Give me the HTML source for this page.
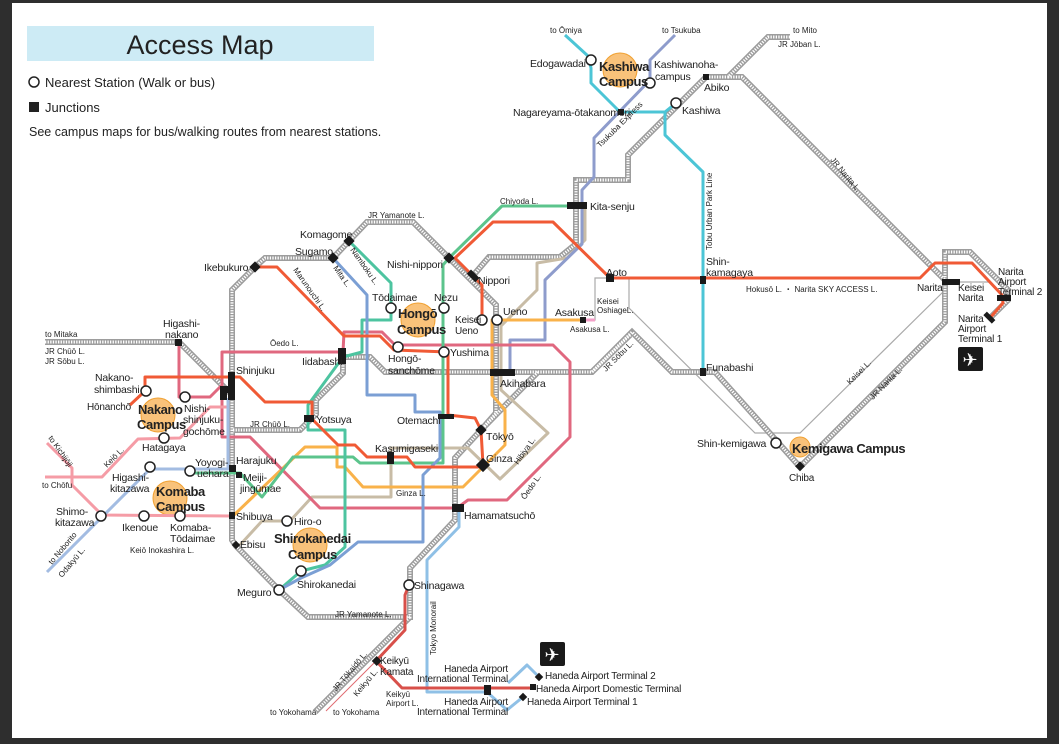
<!DOCTYPE html>
<html><head><meta charset="utf-8"><style>
html,body{margin:0;padding:0;background:#2e2e2e;}
svg{display:block;}
text{font-family:"Liberation Sans",sans-serif;fill:#222;}
.s{font-size:10.5px;letter-spacing:-0.2px;}
.t{font-size:8px;}
.c{font-size:13px;font-weight:bold;letter-spacing:-0.4px;}
</style></head><body>
<svg width="1059" height="744" viewBox="0 0 1059 744" xmlns="http://www.w3.org/2000/svg">
<rect x="0" y="0" width="1059" height="744" fill="#2e2e2e"/>
<rect x="12" y="3" width="1035" height="735" fill="#fff"/>
<rect x="27" y="26" width="347" height="35" fill="#cdebf5"/>
<text x="200" y="54" text-anchor="middle" style="font-size:27px" fill="#222">Access Map</text>
<circle cx="34" cy="82" r="5" fill="#fff" stroke="#222" stroke-width="1.5"/>
<text x="45" y="87" style="font-size:13px">Nearest Station (Walk or bus)</text>
<rect x="29" y="102" width="10" height="10" fill="#222"/>
<text x="45" y="112" style="font-size:13px">Junctions</text>
<text x="29" y="136" style="font-size:12.5px">See campus maps for bus/walking routes from nearest stations.</text>

<g fill="#f9c27a" stroke="#f0a030" stroke-width="1">
<circle cx="418" cy="320" r="17"/><circle cx="158" cy="415" r="17"/><circle cx="170" cy="498" r="17"/>
<circle cx="310" cy="545" r="17"/><circle cx="620" cy="70" r="17"/><circle cx="800" cy="447" r="10"/>
</g>

<g fill="none" stroke="#aaa" stroke-width="1.2">
<path d="M584,320 L595,320 L595,278 L629,278 L629,308 L755,433 L800,433 L945,290"/>
<path d="M950,282 L990,282 L1002,294"/>
</g>

<g fill="none" stroke-linejoin="miter">
<g stroke="#9d9d9d" stroke-width="6">
<path d="M255,267 L265,258 L333,258 L349,241 L367,222 L413,222 L449,258 L496,305 L496,413 L481,430 L455,458 L455,520 L410,568 L410,617 L308,617 L279,590 L236,546 L232,540 L232,290 Z"/>
<path d="M45,342 L179,342 L232,395"/>
<path d="M233,430 L300,430 L316,414 L316,400 L343,373 L343,357 L370,357 L385,372 L592,372 L632,332 L672,372 L715,372 L800,467 L945,322 L945,252 L970,252 L1008,290 L1008,300 L990,318"/>
<path d="M630,335 L592,372"/><path d="M538,372 L481,430"/>
<path d="M790,37 L768,37 L728,77 L706,77 L628,155 L628,180 L576,180 L576,244 L560,257 L489,257 L471,278"/>
<path d="M728,77 L742,77 L945,280"/>
<path d="M315,712 L410,617"/>
</g>
<g stroke="#fff" stroke-width="3" stroke-dasharray="1.3 1.3">
<path d="M255,267 L265,258 L333,258 L349,241 L367,222 L413,222 L449,258 L496,305 L496,413 L481,430 L455,458 L455,520 L410,568 L410,617 L308,617 L279,590 L236,546 L232,540 L232,290 Z"/>
<path d="M45,342 L179,342 L232,395"/>
<path d="M233,430 L300,430 L316,414 L316,400 L343,373 L343,357 L370,357 L385,372 L592,372 L632,332 L672,372 L715,372 L800,467 L945,322 L945,252 L970,252 L1008,290 L1008,300 L990,318"/>
<path d="M630,335 L592,372"/><path d="M538,372 L481,430"/>
<path d="M790,37 L768,37 L728,77 L706,77 L628,155 L628,180 L576,180 L576,244 L560,257 L489,257 L471,278"/>
<path d="M728,77 L742,77 L945,280"/>
<path d="M315,712 L410,617"/>
</g>
</g>

<g fill="none" stroke-width="3" stroke-linejoin="round">
<path stroke="#c8bca6" d="M585,206 L585,240 L567,258 L537,263 L537,290 L501,326 L501,390 L548,433 L500,479 L468,448 L391,448 L391,497 L312,497 L290,521 L262,521 L240,545"/>
<path stroke="#8e9ccc" d="M675,35 L650,60 L650,80 L594,138 L594,177 L582,190 L582,244 L545,280 L545,340 L510,340 L510,372"/>
<path stroke="#4cc5d6" d="M565,35 L588,56 L591,68 L591,83 L620,112 L665,112 L676,103 M665,112 L665,135 L703,172 L703,372"/>
<path stroke="#f05a35" d="M482,318 L482,285 L455,258 L493,222 L553,222 L610,278 L920,278 L935,263 L972,263 L1002,295 L1003,303 L990,318"/>
<path stroke="#f4a0c8" d="M584,320 L595,320"/>
<path stroke="#f9b24a" d="M584,320 L492,320 L492,395 L505,410 L505,445 L483,467 L463,487 L363,487 L345,467 L337,467 L337,447 L305,447 L234,515"/>
<path stroke="#e0687f" d="M343,352 L222,352 L222,437 L250,437 L320,508 L457,508 L468,500 L507,500 L570,437 L570,362 L553,345 L395,345 L382,332 L344,332 L343,352 M179,342 L179,397 L210,397 L222,385"/>
<path stroke="#5cc48c" d="M570,206 L502,206 L449,258 L443,265 L443,463 L360,463 L353,457 L293,457 L262,497 L240,473 L190,473"/>
<path stroke="#4dc4a0" d="M349,241 L391,283 L391,320 L362,320 L362,352 L343,357 L308,405 L308,430 L345,430 L345,547 L325,565 L301,571 L279,590"/>
<path stroke="#7b9fd4" d="M333,258 L367,295 L367,395 L415,395 L415,412 L440,412 L440,458 L423,475 L423,542 L358,542 L330,565 L301,578 L279,590"/>
<path stroke="#f05a35" d="M255,267 L277,267 L344,336 L380,336 L394,350 L448,352 L448,415 L475,418 L481,430 L483,465 L478,467 L415,467 L407,457 L367,457 L355,445 L338,445 L312,419 L312,402 L265,402 L240,377 L145,377 L145,390 M145,391 L130,405"/>
<path stroke="#f59ca6" d="M227,407 L210,407 L180,438 L138,439 L102,477 L45,477 M47,443 L72,468 L72,485 L102,515 L232,516"/>
<path stroke="#a3bce2" d="M228,398 L228,469 L150,469 L47,572"/>
<path stroke="#8fc0e6" d="M459,510 L459,527 L427,560 L427,692 L487,692 L507,710 L523,697 M508,683 L527,665 L540,678"/>
<path stroke="#d8504a" d="M409,585 L405,595 L405,630 L376,661 L402,688 L533,688"/>
<path stroke="#e06a70" stroke-width="1" d="M326,711 L376,661"/>
</g>

<g fill="#1a1a1a">
<rect x="251" y="263" width="8" height="8" transform="rotate(45 255 267)"/>
<rect x="329" y="254" width="8" height="8" transform="rotate(45 333 258)"/>
<rect x="345" y="237" width="8" height="8" transform="rotate(45 349 241)"/>
<rect x="445" y="254" width="8" height="8" transform="rotate(45 449 258)"/>
<rect x="465" y="272" width="12" height="6" transform="rotate(45 471 278)"/>
<rect x="338" y="348" width="8" height="16"/>
<rect x="228" y="372" width="7" height="28"/><rect x="220" y="386" width="15" height="7"/><rect x="220" y="386" width="7" height="14"/>
<rect x="304" y="415" width="10" height="7"/>
<rect x="438" y="414" width="16" height="5"/>
<rect x="387" y="452" width="7" height="12"/>
<rect x="477" y="426" width="8" height="8" transform="rotate(45 481 430)"/>
<rect x="478" y="460" width="10" height="10" transform="rotate(45 483 465)"/>
<rect x="490" y="369" width="25" height="7"/>
<rect x="452" y="504" width="12" height="8"/>
<rect x="567" y="202" width="20" height="7"/>
<rect x="606" y="274" width="8" height="8"/>
<rect x="700" y="276" width="6" height="8"/>
<rect x="700" y="368" width="6" height="8"/>
<rect x="618" y="109" width="6" height="6"/>
<rect x="703" y="74" width="6" height="6"/>
<rect x="175" y="339" width="7" height="7"/>
<rect x="229" y="465" width="7" height="7"/><rect x="236" y="472" width="6" height="6"/>
<rect x="229" y="512" width="6" height="7"/>
<rect x="233" y="542" width="6" height="6" transform="rotate(45 236 545)"/>
<rect x="796" y="463" width="7" height="7" transform="rotate(45 800 467)"/>
<rect x="942" y="279" width="18" height="6"/>
<rect x="997" y="295" width="14" height="6"/>
<rect x="983" y="315" width="12" height="5" transform="rotate(45 989 318)"/>
<rect x="373" y="657" width="7" height="7" transform="rotate(45 376 661)"/>
<rect x="484" y="685" width="7" height="10"/>
<rect x="530" y="684" width="6" height="6"/>
<rect x="536" y="674" width="6" height="6" transform="rotate(45 539 677)"/>
<rect x="520" y="694" width="6" height="6" transform="rotate(45 523 697)"/>
<rect x="580" y="317" width="6" height="6"/>
</g>

<g fill="#fff" stroke="#222" stroke-width="1.5">
<circle cx="391" cy="308" r="5"/><circle cx="444" cy="308" r="5"/><circle cx="482" cy="320" r="5"/>
<circle cx="497" cy="320" r="5"/><circle cx="398" cy="347" r="5"/><circle cx="444" cy="352" r="5"/>
<circle cx="146" cy="391" r="5"/><circle cx="185" cy="397" r="5"/><circle cx="164" cy="438" r="5"/>
<circle cx="150" cy="467" r="5"/><circle cx="190" cy="471" r="5"/><circle cx="101" cy="516" r="5"/>
<circle cx="144" cy="516" r="5"/><circle cx="180" cy="516" r="5"/><circle cx="287" cy="521" r="5"/>
<circle cx="301" cy="571" r="5"/><circle cx="279" cy="590" r="5"/><circle cx="409" cy="585" r="5"/>
<circle cx="591" cy="60" r="5"/><circle cx="650" cy="83" r="5"/><circle cx="676" cy="103" r="5"/>
<circle cx="776" cy="443" r="5"/>
</g>

<rect x="958" y="347" width="25" height="24" rx="2" fill="#1a1a1a"/>
<text x="970" y="366" text-anchor="middle" style="font-size:18px;fill:#fff">✈</text>
<rect x="540" y="642" width="25" height="24" rx="2" fill="#1a1a1a"/>
<text x="552" y="661" text-anchor="middle" style="font-size:18px;fill:#fff">✈</text>

<g class="c">
<text x="398" y="318" class="c">Hongō</text><text x="397" y="334" class="c">Campus</text>
<text x="138" y="414" class="c">Nakano</text><text x="137" y="429" class="c">Campus</text>
<text x="156" y="496" class="c">Komaba</text><text x="156" y="511" class="c">Campus</text>
<text x="274" y="543" class="c">Shirokanedai</text><text x="288" y="559" class="c">Campus</text>
<text x="599" y="71" class="c">Kashiwa</text><text x="599" y="86" class="c">Campus</text>
<text x="792" y="453" class="c">Kemigawa Campus</text>
</g>

<g class="s">
<text x="300" y="238">Komagome</text><text x="295" y="255">Sugamo</text><text x="204" y="271">Ikebukuro</text>
<text x="387" y="268">Nishi-nippori</text><text x="478" y="284">Nippori</text>
<text x="372" y="301">Tōdaimae</text><text x="434" y="301">Nezu</text>
<text x="455" y="323" style="font-size:10px">Keisei</text><text x="455" y="334" style="font-size:10px">Ueno</text>
<text x="503" y="315">Ueno</text><text x="555" y="316">Asakusa</text>
<text x="388" y="362">Hongō-</text><text x="388" y="374">sanchōme</text><text x="450" y="356">Yushima</text>
<text x="302" y="365">Iidabashi</text><text x="500" y="387">Akihabara</text>
<text x="397" y="424">Otemachi</text><text x="486" y="440">Tōkyō</text><text x="486" y="462">Ginza</text>
<text x="375" y="452">Kasumigaseki</text><text x="316" y="423">Yotsuya</text>
<text x="236" y="374">Shinjuku</text><text x="236" y="464">Harajuku</text>
<text x="243" y="481">Meiji-</text><text x="240" y="492">jingūmae</text>
<text x="236" y="520">Shibuya</text><text x="240" y="548">Ebisu</text>
<text x="294" y="525">Hiro-o</text><text x="297" y="588">Shirokanedai</text><text x="237" y="596">Meguro</text>
<text x="414" y="589">Shinagawa</text><text x="464" y="519">Hamamatsuchō</text>
<text x="163" y="327">Higashi-</text><text x="165" y="338">nakano</text>
<text x="95" y="381">Nakano-</text><text x="94" y="393">shimbashi</text><text x="87" y="410" style="font-size:10px">Hōnanchō</text>
<text x="184" y="412">Nishi-</text><text x="183" y="423">shinjuku-</text><text x="183" y="435">gochōme</text>
<text x="142" y="451">Hatagaya</text>
<text x="112" y="481">Higashi-</text><text x="110" y="492">kitazawa</text>
<text x="195" y="466">Yoyogi-</text><text x="197" y="477">uehara</text>
<text x="56" y="515">Shimo-</text><text x="55" y="526">kitazawa</text>
<text x="122" y="531">Ikenoue</text><text x="170" y="531">Komaba-</text><text x="170" y="542">Tōdaimae</text>
<text x="530" y="67">Edogawadai</text><text x="654" y="68">Kashiwanoha-</text><text x="655" y="80">campus</text>
<text x="513" y="116">Nagareyama-ōtakanomori</text><text x="682" y="114">Kashiwa</text>
<text x="704" y="91">Abiko</text><text x="590" y="210">Kita-senju</text>
<text x="606" y="276">Aoto</text><text x="706" y="265">Shin-</text><text x="706" y="276">kamagaya</text>
<text x="706" y="371">Funabashi</text><text x="697" y="447">Shin-kemigawa</text>
<text x="789" y="481" style="font-size:10px">Chiba</text>
<text x="917" y="291" style="font-size:10px">Narita</text>
<text x="958" y="291" style="font-size:10px">Keisei</text><text x="958" y="301" style="font-size:10px">Narita</text>
<text x="998" y="275" style="font-size:10px">Narita</text><text x="998" y="285" style="font-size:10px">Airport</text><text x="998" y="295" style="font-size:10px">Terminal 2</text>
<text x="958" y="322" style="font-size:10px">Narita</text><text x="958" y="332" style="font-size:10px">Airport</text><text x="958" y="342" style="font-size:10px">Terminal 1</text>
<text x="380" y="664" style="font-size:10px">Keikyū</text><text x="380" y="675" style="font-size:10px">Kamata</text>
<text x="508" y="672" text-anchor="end" style="font-size:10px">Haneda Airport</text><text x="508" y="682" text-anchor="end" style="font-size:10px">International Terminal</text>
<text x="508" y="705" text-anchor="end" style="font-size:10px">Haneda Airport</text><text x="508" y="715" text-anchor="end" style="font-size:10px">International Terminal</text>
<text x="545" y="679" style="font-size:10px">Haneda Airport Terminal 2</text>
<text x="536" y="692" style="font-size:10px">Haneda Airport Domestic Terminal</text>
<text x="527" y="705" style="font-size:10px">Haneda Airport Terminal 1</text>
</g>

<g class="t">
<text x="368" y="218" fill="#666">JR Yamanote L.</text>
<text x="335" y="617" fill="#666">JR Yamanote L.</text>
<text x="250" y="427" fill="#666">JR Chūō L.</text>
<text x="45" y="337" fill="#666">to Mitaka</text>
<text x="45" y="354" fill="#666">JR Chūō L.</text><text x="45" y="364" fill="#666">JR Sōbu L.</text>
<text x="270" y="346" fill="#e0687f">Ōedo L.</text>
<text x="500" y="204" fill="#3cb070">Chiyoda L.</text>
<text x="396" y="496" fill="#e8a030">Ginza L.</text>
<text x="570" y="332" fill="#f070b0">Asakusa L.</text>
<text x="746" y="292" fill="#f05a35">Hokusō L. ・ Narita SKY ACCESS L.</text>
<text x="597" y="304" fill="#666">Keisei</text><text x="597" y="313" fill="#666">OshiageL.</text>
<text x="130" y="553" fill="#e04a80">Keiō Inokashira L.</text>
<text x="42" y="488" fill="#e04a80">to Chōfu</text>
<text x="270" y="715" fill="#555">to Yokohama</text>
<text x="333" y="715" fill="#d8504a">to Yokohama</text>
<text x="386" y="697" fill="#d8504a">Keikyū</text><text x="386" y="706" fill="#d8504a">Airport L.</text>
<text x="550" y="33" fill="#3cb8c8">to Ōmiya</text>
<text x="662" y="33" fill="#7f8ec8">to Tsukuba</text>
<text x="793" y="33" fill="#555">to Mito</text>
<text x="778" y="47" fill="#555">JR Jōban L.</text>
<text transform="translate(712,250) rotate(-90)" fill="#3cb8c8">Tobu Urban Park Line</text>
<text transform="translate(436,655) rotate(-90)" fill="#6aaee0">Tokyo Monorail</text>
<text transform="translate(830,160) rotate(50)" fill="#666">JR Narita L.</text>
<text transform="translate(873,400) rotate(-45)" fill="#666">JR Narita L.</text>
<text transform="translate(850,385) rotate(-45)" fill="#666">Keisei L.</text>
<text transform="translate(606,372) rotate(-45)" fill="#666">JR Sōbu L.</text>
<text transform="translate(600,148) rotate(-45)" fill="#7f8ec8">Tsukuba Express</text>
<text transform="translate(293,270) rotate(55)" fill="#f05a35">Marunouchi L.</text>
<text transform="translate(350,250) rotate(55)" fill="#30b090">Namboku L.</text>
<text transform="translate(333,268) rotate(55)" fill="#5a80c8">Mita L.</text>
<text transform="translate(518,465) rotate(-55)" fill="#888">Hibiya L.</text>
<text transform="translate(525,500) rotate(-55)" fill="#e04a70">Ōedo L.</text>
<text transform="translate(48,438) rotate(55)" fill="#e04a80">to Kichijōji</text>
<text transform="translate(107,468) rotate(-45)" fill="#e04a80">Keiō L.</text>
<text transform="translate(52,565) rotate(-50)" fill="#5a80c8">to Noborito</text>
<text transform="translate(62,578) rotate(-50)" fill="#5a80c8">Odakyū L.</text>
<text transform="translate(336,692) rotate(-50)" fill="#666">JR Tōkaidō L.</text>
<text transform="translate(357,697) rotate(-50)" fill="#d8504a">Keikyū L.</text>
</g>
</svg>
</body></html>
